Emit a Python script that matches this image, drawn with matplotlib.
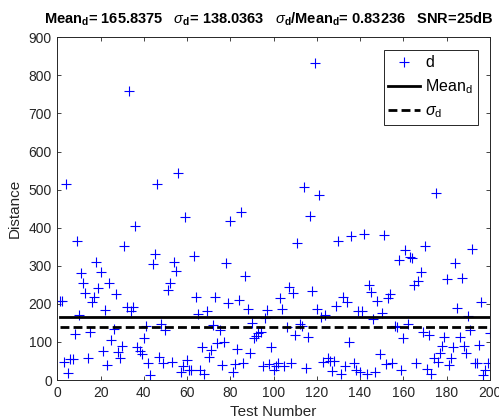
import matplotlib
matplotlib.use("Agg")
import matplotlib.pyplot as plt
import numpy as np

# Distance of each test
distance = [
    207, 207, 48, 516, 19, 54, 54, 120, 364, 171,
    280, 254, 228, 58, 125, 206, 219, 311, 241, 283,
    77, 184, 39, 254, 105, 134, 226, 73, 57, 89,
    353, 191, 758, 180, 193, 405, 86, 77, 68, 111,
    142, 46, 13, 304, 332, 516, 61, 147, 46, 132,
    237, 256, 48, 311, 287, 543, 22, 38, 428, 53,
    26, 26, 325, 217, 173, 26, 86, 17, 180, 61,
    79, 145, 219, 96, 132, 39, 101, 307, 202, 417,
    22, 41, 82, 209, 441, 44, 274, 187, 70, 151,
    110, 115, 123, 127, 38, 162, 184, 41, 88, 26,
    38, 44, 215, 186, 38, 140, 244, 46, 228, 118,
    360, 147, 142, 506, 31, 114, 432, 235, 833, 186,
    485, 165, 48, 171, 57, 51, 25, 51, 195, 366,
    16, 217, 37, 204, 101, 377, 44, 26, 182, 22,
    182, 383, 16, 250, 232, 160, 22, 208, 68, 175,
    381, 42, 215, 225, 46, 142, 140, 316, 26, 110,
    341, 147, 323, 321, 250, 44, 261, 283, 127, 351,
    28, 118, 17, 59, 491, 48, 72, 90, 114, 266,
    39, 59, 88, 307, 189, 114, 269, 90, 72, 167,
    132, 344, 44, 44, 92, 206, 13, 26, 44, 124,
]
test_number = np.arange(1, len(distance) + 1)

mean_d = 165.8375
sigma_d = 138.0363
ratio = 0.83236
snr_db = 25

x_ticks = list(range(0, 201, 20))
y_ticks = list(range(0, 901, 100))

plt.rcParams["font.family"] = ["Liberation Sans", "DejaVu Sans"]
plt.rcParams["mathtext.fontset"] = "custom"
plt.rcParams["mathtext.rm"] = "Liberation Sans"
plt.rcParams["mathtext.bf"] = "Liberation Sans:bold"
plt.rcParams["mathtext.it"] = "Liberation Sans:italic"

axis_gray = (0.15, 0.15, 0.15)

fig = plt.figure(figsize=(4.99, 4.19), dpi=100)
ax = fig.add_axes([0.115, 0.093, 0.8665, 0.818])

ax.plot(test_number, distance, linestyle="none", marker="+", color=(0, 0, 1),
        markersize=6.5, markeredgewidth=0.8, label="d")
ax.plot([1, len(distance)], [mean_d, mean_d], color="black", linewidth=2,
        label=r"Mean$_{\rm d}$")
ax.plot([1, len(distance)], [sigma_d, sigma_d], color="black", linewidth=2,
        linestyle=(0, (3.2, 1.5)), label=r"$\sigma_{\rm d}$")

ax.set_xlim(0, 200)
ax.set_ylim(0, 900)
ax.set_xticks(x_ticks)
ax.set_yticks(y_ticks)
ax.tick_params(direction="in", top=True, right=True, length=3, width=0.6,
               labelsize=10, colors=axis_gray, pad=4)
for s in ax.spines.values():
    s.set_color(axis_gray)
    s.set_linewidth(0.7)

ax.set_xlabel("Test Number", fontsize=11, color=axis_gray, labelpad=4)
ax.set_ylabel("Distance", fontsize=11, color=axis_gray, labelpad=5)

title = (r"Mean$_{\mathbf{d}}$= %.4f   $\sigma_{\mathbf{d}}$= %.4f   "
         r"$\sigma_{\mathbf{d}}$/Mean$_{\mathbf{d}}$= %.5f   SNR=%ddB"
         % (mean_d, sigma_d, ratio, snr_db))
fig.text(0.538, 0.955, title, ha="center", va="center", fontsize=10.5,
         fontweight="bold")

leg = ax.legend(loc="upper right", bbox_to_anchor=(0.972, 0.962),
                fontsize=11.5, frameon=True, fancybox=False, framealpha=1,
                edgecolor=axis_gray, handlelength=2.0, handletextpad=0.3,
                borderpad=0.3, labelspacing=0.45, borderaxespad=0)
leg.get_frame().set_linewidth(0.7)

fig.savefig("out.png", dpi=100)
